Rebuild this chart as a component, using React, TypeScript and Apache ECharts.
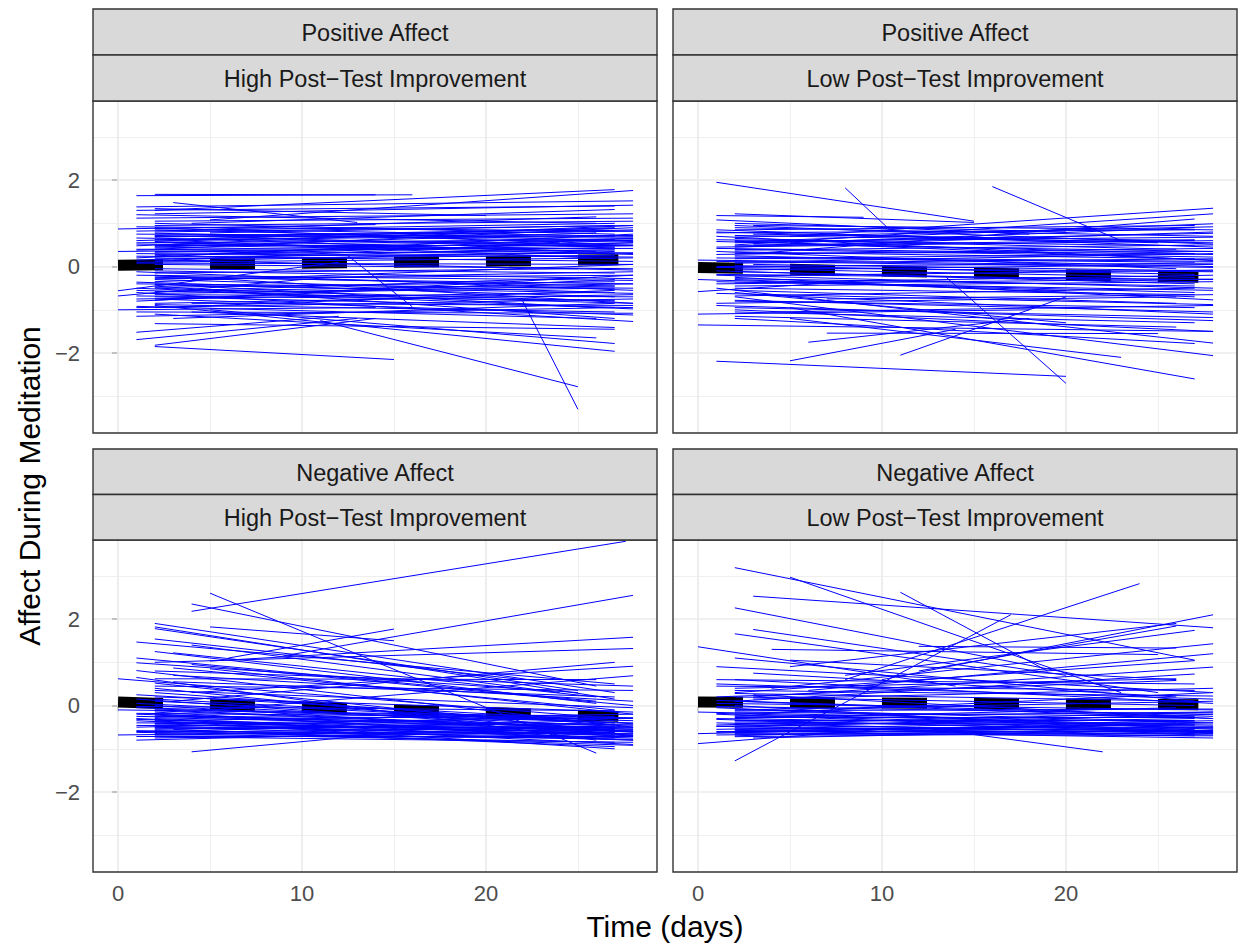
import React, { useEffect, useRef } from 'react';
import * as echarts from 'echarts';

// ---- axis extents & ticks ----
const X_MIN = -1.36;
const X_MAX = 29.3;
const Y_MIN = -3.85;
const Y_MAX = 3.83;
const xTicks = [0, 10, 20];
const xMinor = [5, 15, 25];
const yTicks = [-2, 0, 2];
const yMinor = [-3, -1, 1, 3];

// ---- facet labels ----
const affectLabels = ['Positive Affect', 'Positive Affect', 'Negative Affect', 'Negative Affect'];
const groupLabels = [
  'High Post\u2212Test Improvement',
  'Low Post\u2212Test Improvement',
  'High Post\u2212Test Improvement',
  'Low Post\u2212Test Improvement',
];
const xTitle = 'Time (days)';
const yTitle = 'Affect During Meditation';

// ---- individual trajectories: [startDay, startValue, endDay, endValue] ----
const posHighLines = [
  [1, 1.64, 16, 1.66], [2, 1.67, 14, 1.66], [3, 1.48, 13, 1.02], [2, 1.30, 27, 1.78],
  [5, 1.08, 28, 1.76], [1, 1.38, 28, 1.52], [1, 1.30, 27, 1.40], [2, 1.22, 28, 1.42],
  [4, 1.00, 27, 1.32], [2, 1.34, 20, 1.18], [1, 1.12, 28, 1.22], [0, 0.87, 14, 0.97],
  [2, 1.05, 28, 1.12], [1, 1.20, 26, 1.00],
  [2, 0.95, 28, 1.05], [2, 0.80, 28, 0.95], [1, 0.75, 27, 0.70], [2, 0.70, 28, 0.82],
  [2, 0.62, 28, 0.72], [1, 0.55, 27, 0.62], [2, 0.50, 28, 0.50], [2, 0.45, 26, 0.78],
  [1, 0.40, 28, 0.42], [2, 0.35, 27, 0.30], [1, 0.30, 28, 0.22], [2, 0.25, 28, 0.55],
  [2, 0.18, 27, 0.26], [1, 0.10, 28, 0.20], [2, 0.05, 28, -0.05], [1, 0.60, 27, 0.90],
  [2, 0.72, 27, 0.45], [4, 0.85, 26, 1.15], [1, 0.20, 28, 0.75], [2, 0.90, 24, 0.55],
  [1, 0.48, 28, 0.95], [0, 0.35, 20, 0.42], [2, 0.62, 27, 0.18], [5, 0.30, 28, 0.65],
  [2, 0.85, 28, 0.60], [1, 0.15, 27, 0.45], [3, 0.55, 26, 0.35], [12.5, 0.25, 16, -0.93],
  [2, 0.15, 28, -0.08],
  [2, 0.88, 28, 0.70], [1, 0.82, 27, 1.00], [2, 0.77, 28, 0.58], [2, 0.68, 27, 0.88],
  [1, 0.66, 28, 0.50], [2, 0.58, 28, 0.85], [1, 0.52, 27, 0.40], [2, 0.47, 28, 0.65],
  [2, 0.43, 27, 0.60], [1, 0.38, 28, 0.55], [2, 0.33, 28, 0.48], [2, 0.28, 27, 0.38],
  [1, 0.24, 28, 0.12], [2, 0.22, 28, 0.32], [2, 0.12, 27, 0.35], [1, 0.08, 28, 0.05],
  [2, 0.70, 28, 0.68], [2, 0.56, 28, 0.28], [4, 0.64, 28, 0.30], [1, 0.92, 28, 0.82],
  [2, 1.00, 27, 0.75], [5, 0.78, 27, 0.95], [2, 0.40, 28, 0.90], [3, 0.15, 28, 0.62],
  [0, -0.56, 12, 0.10], [0, -0.68, 10, -0.30], [0, -1.00, 14, -0.95], [1, -0.95, 28, -0.75],
  [2, -0.10, 28, -0.28], [1, -0.20, 28, -0.32], [2, -0.30, 27, -0.60], [1, -0.40, 28, -0.50],
  [2, -0.50, 27, -0.80], [2, -0.65, 28, -0.70], [1, -0.75, 26, -0.60], [4, -0.85, 28, -0.90],
  [2, -0.15, 25, -0.05], [2, -0.35, 28, 0.05], [1, -0.80, 27, -0.30], [5, -0.60, 27, -0.45],
  [2, -0.95, 27, -0.55], [1, -1.15, 27, -0.95], [2, -0.78, 28, -0.20], [2, -0.90, 27, -1.96],
  [5, -1.00, 27, -1.78], [2, -1.10, 26, -1.65], [1, -0.60, 28, -1.27], [2, -0.75, 28, -1.12],
  [1, -0.50, 28, -0.98], [4, -1.05, 27, -1.41], [2, -0.45, 27, -1.20], [2, -1.32, 27, -1.45],
  [1, -1.52, 12, -1.15], [1, -1.69, 13, -1.20], [2, -1.85, 15, -2.15], [2, -1.82, 14, -1.20],
  [11, -1.25, 25, -2.78], [22, -0.80, 25, -3.30], [2, -0.25, 28, -0.40], [4, -0.55, 26, -0.25],
  [2, -0.05, 27, -0.15], [1, -0.12, 28, -0.55], [2, -0.22, 27, -0.45], [2, -0.28, 28, -0.20],
  [1, -0.36, 27, -0.70], [2, -0.42, 28, -0.62], [2, -0.48, 27, -0.35], [1, -0.55, 28, -0.85],
  [2, -0.62, 27, -0.50], [2, -0.70, 28, -0.95], [1, -0.68, 27, -0.78], [2, -0.85, 28, -0.65],
  [2, -0.88, 27, -1.05], [1, -1.05, 28, -1.08], [2, -0.20, 28, -0.85], [4, -0.30, 28, -0.12],
  [2, -0.58, 28, -0.40], [1, -0.92, 26, -1.20], [3, -1.20, 27, -0.85], [2, -0.40, 26, -0.95],
];

const posLowLines = [
  [1, 1.95, 15, 1.05], [8, 1.82, 10.5, 0.82], [16, 1.85, 23, 0.60], [1, 1.18, 9, 1.14],
  [2, 1.22, 15, 1.02], [1, 1.08, 18, 0.75], [1, 0.80, 25, 0.55], [1, 0.58, 27, 0.30],
  [5, 0.70, 28, 1.35], [2, 0.50, 28, 1.22], [4, 0.60, 28, 0.99], [2, 0.55, 28, 0.77],
  [3, 0.30, 27, 1.10], [2, 0.95, 28, 0.52], [1, 0.85, 28, 0.45], [2, 0.40, 28, 0.22],
  [1, 0.70, 28, 0.14], [2, 1.00, 20, 0.80], [3, 0.75, 27, 0.60], [2, 0.65, 26, 0.40],
  [1, 0.45, 28, 0.60], [2, 0.30, 28, 0.35], [1, 0.20, 27, 0.10], [2, 0.10, 28, 0.30],
  [0, 0.15, 20, 0.05], [1, 0.35, 26, -0.05], [2, 0.25, 28, 0.00], [3, 0.05, 28, -0.10],
  [2, -0.05, 27, -0.25], [1, 0.00, 28, 0.08],
  [2, 0.90, 28, 0.70], [1, 0.78, 27, 0.85], [2, 0.72, 28, 0.55], [2, 0.68, 28, 0.92],
  [1, 0.62, 27, 0.48], [2, 0.58, 28, 0.68], [3, 0.52, 28, 0.35], [2, 0.48, 27, 0.62],
  [1, 0.42, 28, 0.28], [2, 0.38, 28, 0.50], [2, 0.34, 27, 0.18], [1, 0.28, 28, 0.42],
  [2, 0.22, 28, 0.12], [2, 0.18, 27, 0.30], [1, 0.12, 28, -0.02], [2, 0.08, 28, 0.18],
  [2, 0.02, 27, -0.18], [1, -0.02, 28, -0.12], [2, -0.08, 28, 0.05], [2, -0.12, 27, -0.35],
  [1, -0.18, 28, -0.30], [2, -0.22, 28, -0.08], [2, -0.28, 27, -0.45], [1, -0.35, 28, -0.55],
  [2, -0.38, 28, -0.20], [2, -0.50, 27, -0.65], [1, -0.62, 28, -0.88], [2, -0.68, 27, -0.50],
  [2, -0.78, 28, -1.05], [1, -0.85, 26, -0.70], [2, -0.95, 28, -1.18], [2, -1.05, 27, -1.30],
  [2, 0.85, 27, 0.95], [3, 0.95, 28, 0.85], [2, 0.45, 28, 0.80], [5, 0.55, 27, 0.90],
  [0, -0.30, 20, -0.55], [2, 0.60, 28, 0.15],
  [1, -2.19, 20, -2.54], [5, -2.18, 14, -1.45], [11, -2.05, 20, -0.70], [6, -1.75, 18, -1.20],
  [7, -1.54, 25, -1.55], [13.5, -0.25, 20, -2.70], [5, -1.20, 23, -2.10], [5, -0.95, 27, -2.60],
  [2, -0.70, 28, -2.06], [1, -0.50, 28, -1.77], [2, -1.00, 28, -1.50], [0, -1.35, 28, -1.50],
  [0, -1.10, 18, -1.00], [0, -0.58, 10, -0.30], [2, -1.20, 27, -1.78], [2, -1.15, 26, -1.40],
  [1, -0.20, 28, -0.50], [2, -0.30, 27, -0.70], [1, -0.40, 28, -0.29], [2, -0.55, 26, -0.85],
  [3, -0.65, 28, -1.10], [2, -0.80, 27, -0.95], [1, -0.90, 28, -1.25], [4, -1.05, 28, -0.90],
  [2, -0.25, 28, -0.77], [1, -0.10, 27, -0.40], [2, -0.45, 28, -0.35], [5, -0.35, 27, -0.60],
  [2, -0.60, 20, -1.30], [7, -0.75, 28, -0.65],
];

const negHighLines = [
  [4, 2.18, 27.6, 3.80], [4, 2.35, 26, 0.45], [5, 2.60, 26, -1.10], [2, 1.90, 27, 0.30],
  [2, 1.82, 27, 0.15], [2, 1.78, 25, 0.35], [5, 1.82, 15, 1.50], [6, 1.10, 15, 1.77],
  [9, 1.15, 28, 2.55], [1, 1.47, 27, 0.50], [5, 1.03, 28, 1.58], [2, 1.00, 28, 1.32],
  [4, 0.30, 28, 0.91], [5, -0.10, 28, 0.69], [3, 0.10, 27, 1.00], [0, 0.62, 27, -0.30],
  [1, 0.99, 25, 0.30], [1, 0.81, 28, -0.50], [2, 1.54, 22, 0.60], [3, 1.22, 26, 0.20],
  [3, 0.87, 27, -0.10], [2, 0.52, 27, -0.60], [2, 0.45, 28, 0.35], [2, 1.25, 26, 0.05],
  [4, 1.40, 24, 0.30], [1, 0.65, 26, -0.80], [3, 0.70, 28, 0.10], [2, 0.30, 27, -0.45],
  [5, 0.85, 28, -0.20],
  [2, 0.10, 28, -0.42], [1, 0.25, 27, -0.35], [2, 0.35, 28, -0.05], [3, 0.55, 27, 0.20],
  [2, 0.80, 28, 0.45], [1, 1.10, 26, 0.10], [2, 0.62, 26, 0.60], [4, 0.95, 28, 0.00],
  [2, 0.40, 28, -0.70], [1, 0.15, 28, -0.62],
  [0, -0.10, 27, -0.25], [0, -0.68, 27, -0.55], [1, -0.80, 20, -0.60], [4, -1.07, 16, -0.60],
  [8, -0.50, 27, -1.00], [1, -0.05, 28, -0.35], [2, -0.20, 28, -0.60], [2, -0.30, 27, -0.70],
  [1, -0.40, 28, -0.45], [2, -0.50, 28, -0.80], [2, -0.55, 27, -0.40], [1, -0.60, 28, -0.65],
  [2, -0.65, 27, -0.85], [2, -0.25, 28, -0.30], [1, 0.05, 28, -0.50], [2, 0.15, 27, -0.40],
  [2, -0.15, 26, -0.75], [1, -0.35, 28, -0.90], [2, -0.45, 28, -0.55], [2, -0.70, 27, -0.75],
  [2, -0.60, 26, -0.35], [5, -0.40, 28, -0.70], [1, -0.50, 25, -0.25], [2, -0.35, 28, -0.20],
  [2, 0.20, 28, -0.15], [1, -0.20, 26, -0.50], [2, -0.75, 28, -0.60], [3, -0.55, 27, -0.95],
  [2, 0.00, 27, -0.65], [1, -0.30, 28, -0.80],
  [1, -0.02, 27, -0.12], [2, -0.08, 28, -0.40], [2, -0.12, 27, -0.55], [1, -0.18, 28, -0.28],
  [2, -0.22, 28, -0.68], [2, -0.28, 27, -0.50], [1, -0.32, 28, -0.60], [2, -0.38, 27, -0.62],
  [2, -0.42, 28, -0.75], [1, -0.46, 28, -0.52], [2, -0.48, 27, -0.68], [2, -0.52, 28, -0.58],
  [1, -0.58, 27, -0.72], [2, -0.62, 28, -0.50], [2, -0.66, 27, -0.62], [1, -0.70, 28, -0.70],
  [2, -0.72, 28, -0.85], [2, -0.42, 26, -0.30], [1, -0.25, 28, -0.45], [2, -0.10, 28, -0.55],
  [2, -0.52, 27, -0.48], [1, -0.62, 28, -0.78], [2, -0.36, 28, -0.66], [2, -0.58, 28, -0.92],
];

const negLowLines = [
  [2, 3.19, 27, 1.05], [5, 2.97, 23, 0.30], [3, 2.53, 28, 1.80], [11, 2.62, 19, 0.80],
  [8, 0.60, 24, 2.82], [2, -1.28, 17, 2.10], [2, 2.26, 22, 0.60], [0, 1.36, 14, 0.45],
  [2, 1.66, 25, 0.30], [3, 1.76, 20, 0.70], [10, 0.60, 28, 2.10], [4, 0.40, 28, 1.43],
  [6, 0.35, 28, 1.20], [3, 0.20, 28, 0.89], [8, 0.70, 27, 1.74], [5, 0.90, 26, 1.90],
  [12, 0.80, 26, 1.84], [2, 0.30, 27, 1.04], [2, 0.10, 27, 0.73], [1, 0.20, 26, 0.58],
  [4, 1.30, 25, 1.18], [12, 1.37, 26, 1.33], [2, 1.10, 27, 0.10], [1, 0.90, 28, 0.30],
  [3, 0.75, 26, 0.20], [2, 0.60, 28, 0.05], [1, 0.45, 27, 0.35], [5, 1.05, 26, 0.60],
  [1, 0.12, 28, -0.25], [2, 0.28, 27, 0.10], [2, 0.35, 28, 0.22], [1, 0.50, 28, 0.15],
  [3, 0.15, 28, 0.40], [2, 0.40, 26, 0.62], [2, -0.20, 28, 0.30], [3, 0.25, 28, -0.30],
  [1, 0.60, 27, 0.50],
  [0, -0.88, 10, -0.55], [12, -0.50, 22, -1.07], [1, -0.30, 28, -0.45], [2, -0.45, 27, -0.60],
  [1, -0.55, 28, -0.35], [2, -0.65, 28, -0.70], [2, -0.15, 27, -0.25], [1, -0.05, 28, -0.55],
  [2, -0.25, 28, -0.15], [1, -0.40, 27, -0.65], [2, -0.55, 28, -0.50], [2, -0.70, 26, -0.40],
  [1, 0.05, 28, -0.10], [2, -0.35, 27, -0.35], [4, -0.60, 28, -0.75], [2, 0.10, 28, -0.30],
  [1, -0.20, 26, -0.60], [2, -0.50, 28, -0.20], [3, -0.75, 27, -0.55], [1, -0.60, 28, -0.60],
  [2, -0.10, 28, 0.10], [2, 0.20, 27, 0.00], [1, -0.45, 28, -0.15], [2, -0.30, 26, -0.05],
  [0, -0.65, 20, -0.45], [0, -0.15, 28, -0.40],
  [1, -0.02, 28, -0.20], [2, -0.08, 27, -0.38], [2, -0.12, 28, -0.08], [1, -0.18, 27, -0.45],
  [2, -0.22, 28, -0.52], [2, -0.28, 27, -0.28], [1, -0.32, 28, -0.62], [2, -0.38, 28, -0.48],
  [2, -0.42, 27, -0.40], [1, -0.48, 28, -0.68], [2, -0.52, 28, -0.58], [2, -0.56, 27, -0.70],
  [1, -0.62, 28, -0.52], [2, -0.66, 28, -0.65], [2, -0.58, 27, -0.45], [1, -0.68, 26, -0.58],
  [2, -0.72, 28, -0.62], [2, -0.35, 28, -0.58], [1, -0.48, 27, -0.30], [2, -0.62, 28, -0.40],
  [2, 0.00, 28, -0.65],
];

// ---- group mean trajectories: [startDay, startValue, endDay, endValue] ----
const posHighMean = [0, 0.03, 27.2, 0.16];
const posLowMean = [0, -0.02, 27.2, -0.25];
const negHighMean = [0, 0.08, 27.2, -0.25];
const negLowMean = [0, 0.08, 27.2, 0.02];

const panelLines = [posHighLines, posLowLines, negHighLines, negLowLines];
const panelMeans = [posHighMean, posLowMean, negHighMean, negLowMean];

const FONT = '"Liberation Sans", Arial, Helvetica, sans-serif';
const PANEL_W = 564;
const PANEL_H = 332;
const panelBoxes = [
  { left: 93, top: 101, stripTop: 9, showX: false, showY: true },
  { left: 673, top: 101, stripTop: 9, showX: false, showY: false },
  { left: 93, top: 540, stripTop: 449, showX: true, showY: true },
  { left: 673, top: 540, stripTop: 449, showX: true, showY: false },
];

const fmtNum = (v: number) => (v < 0 ? '\u2212' + Math.abs(v) : String(v));

function buildOption() {
  const grid: any[] = [];
  const xAxis: any[] = [];
  const yAxis: any[] = [];
  const series: any[] = [];
  const graphic: any[] = [];

  panelBoxes.forEach((p, i) => {
    grid.push({
      left: p.left, top: p.top, width: PANEL_W, height: PANEL_H,
      containLabel: false, outerBoundsMode: 'none', show: false,
    });
    xAxis.push({
      type: 'value', gridIndex: i, min: X_MIN, max: X_MAX,
      axisLine: { show: false },
      splitLine: { show: false },
      axisTick: {
        show: p.showX, customValues: xTicks, length: 6,
        lineStyle: { color: '#333333', width: 1.8, opacity: 1 },
      },
      axisLabel: {
        show: p.showX, customValues: xTicks, margin: 10,
        color: '#4D4D4D', fontSize: 22, fontFamily: FONT,
        formatter: fmtNum,
      },
    });
    yAxis.push({
      type: 'value', gridIndex: i, min: Y_MIN, max: Y_MAX,
      axisLine: { show: false },
      splitLine: { show: false },
      axisTick: {
        show: p.showY, customValues: yTicks, length: 6,
        lineStyle: { color: '#333333', width: 1.8, opacity: 1 },
      },
      axisLabel: {
        show: p.showY, customValues: yTicks, margin: 13,
        color: '#4D4D4D', fontSize: 22, fontFamily: FONT,
        formatter: fmtNum,
      },
    });

    // grid lines (drawn through the axes' scales)
    const gridData: any[] = [];
    xMinor.forEach((x) => gridData.push({ coords: [[x, Y_MIN], [x, Y_MAX]], lineStyle: { width: 0.8 } }));
    yMinor.forEach((y) => gridData.push({ coords: [[X_MIN, y], [X_MAX, y]], lineStyle: { width: 0.8 } }));
    xTicks.forEach((x) => gridData.push({ coords: [[x, Y_MIN], [x, Y_MAX]], lineStyle: { width: 1.7 } }));
    yTicks.forEach((y) => gridData.push({ coords: [[X_MIN, y], [X_MAX, y]], lineStyle: { width: 1.7 } }));
    series.push({
      type: 'lines', coordinateSystem: 'cartesian2d', xAxisIndex: i, yAxisIndex: i,
      silent: true, z: 1, polyline: false,
      lineStyle: { color: '#EBEBEB', opacity: 1, width: 1 },
      data: gridData,
    });

    const m = panelMeans[i];
    series.push({
      type: 'lines', coordinateSystem: 'cartesian2d', xAxisIndex: i, yAxisIndex: i,
      silent: true, z: 2, polyline: false,
      lineStyle: { color: '#000000', opacity: 1, width: 11, type: [45, 47], cap: 'butt' },
      data: [{ coords: [[m[0], m[1]], [m[2], m[3]]] }],
    });

    series.push({
      type: 'lines', coordinateSystem: 'cartesian2d', xAxisIndex: i, yAxisIndex: i,
      silent: true, z: 3, polyline: false,
      lineStyle: { color: '#0000FF', opacity: 1, width: 1 },
      data: panelLines[i].map((l) => ({ coords: [[l[0], l[1]], [l[2], l[3]]] })),
    });

    // panel border
    graphic.push({
      type: 'rect', z: 100, silent: true,
      shape: { x: p.left, y: p.top, width: PANEL_W, height: PANEL_H },
      style: { fill: 'none', stroke: '#333333', lineWidth: 1.4 },
    });
    // strips
    const stripH = (p.top - p.stripTop) / 2;
    [affectLabels[i], groupLabels[i]].forEach((label, k) => {
      const y0 = p.stripTop + k * stripH;
      graphic.push({
        type: 'rect', z: 100, silent: true,
        shape: { x: p.left, y: y0, width: PANEL_W, height: stripH },
        style: { fill: '#D9D9D9', stroke: '#333333', lineWidth: 1.4 },
      });
      graphic.push({
        type: 'text', z: 101, silent: true,
        x: p.left + PANEL_W / 2, y: y0 + stripH / 2 + 1,
        style: {
          text: label, fill: '#1A1A1A', font: `23.5px ${FONT}`,
          textAlign: 'center', textVerticalAlign: 'middle',
        },
      });
    });
  });

  graphic.push({
    type: 'text', z: 101, silent: true,
    x: 665, y: 926,
    style: { text: xTitle, fill: '#000000', font: `30px ${FONT}`, textAlign: 'center', textVerticalAlign: 'middle' },
  });
  graphic.push({
    type: 'text', z: 101, silent: true,
    x: 29, y: 486, rotation: Math.PI / 2,
    style: { text: yTitle, fill: '#000000', font: `30px ${FONT}`, textAlign: 'center', textVerticalAlign: 'middle' },
  });

  return {
    animation: false,
    backgroundColor: '#FFFFFF',
    grid, xAxis, yAxis, series, graphic,
  };
}

export default function App() {
  const ref = useRef<HTMLDivElement>(null);
  useEffect(() => {
    if (!ref.current) return;
    const chart = echarts.init(ref.current, null, { renderer: 'svg' });
    chart.setOption(buildOption() as any);
    return () => chart.dispose();
  }, []);
  return (
    <div
      ref={ref}
      style={{ position: 'absolute', left: 0, top: 0, width: 1238, height: 944, background: '#fff' }}
    />
  );
}
